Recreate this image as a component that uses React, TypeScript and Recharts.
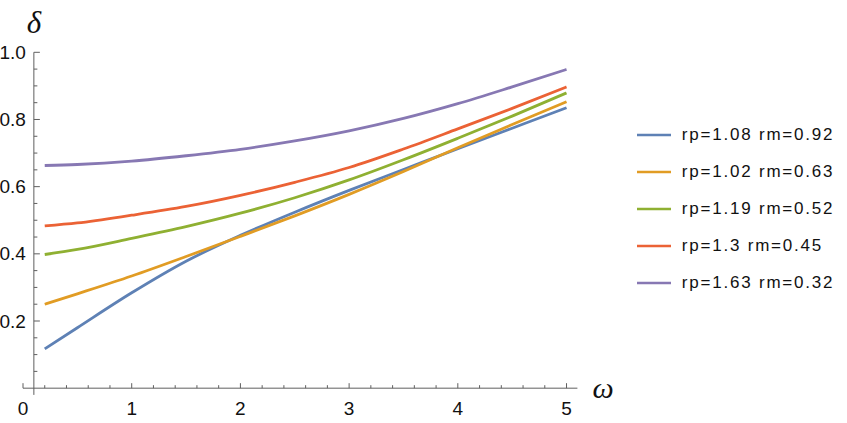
import React from "react";
import { LineChart, Line, XAxis, YAxis, ReferenceLine, Legend } from "recharts";

// ---- data ----
const OMEGA = [0.2, 0.5, 1, 1.5, 2, 2.5, 3, 3.5, 4, 4.5, 5];
const S1 = [0.117, 0.18, 0.284, 0.378, 0.455, 0.524, 0.589, 0.651, 0.713, 0.774, 0.835];
const S2 = [0.25, 0.281, 0.334, 0.392, 0.452, 0.513, 0.577, 0.645, 0.716, 0.785, 0.853];
const S3 = [0.398, 0.413, 0.446, 0.481, 0.521, 0.567, 0.62, 0.68, 0.744, 0.81, 0.879];
const S4 = [0.483, 0.492, 0.515, 0.541, 0.574, 0.613, 0.657, 0.712, 0.772, 0.833, 0.897];
const S5 = [0.663, 0.666, 0.676, 0.692, 0.711, 0.736, 0.766, 0.803, 0.847, 0.897, 0.949];
const SERIES_NAMES = [
  "rp=1.08 rm=0.92",
  "rp=1.02 rm=0.63",
  "rp=1.19 rm=0.52",
  "rp=1.3 rm=0.45",
  "rp=1.63 rm=0.32",
];
const SERIES_KEYS = ["s1", "s2", "s3", "s4", "s5"];
const SERIES_VALUES = [S1, S2, S3, S4, S5];
const COLORS = ["#5E81B5", "#E19C24", "#8FB032", "#EB6235", "#8778B3"];

const X_TICKS = [
  0, 0.2, 0.4, 0.6, 0.8, 1, 1.2, 1.4, 1.6, 1.8, 2, 2.2, 2.4, 2.6, 2.8, 3, 3.2, 3.4, 3.6, 3.8, 4,
  4.2, 4.4, 4.6, 4.8, 5,
];
const X_LABELS = [0, 1, 2, 3, 4, 5];
const Y_TICKS = [
  0.05, 0.1, 0.15, 0.2, 0.25, 0.3, 0.35, 0.4, 0.45, 0.5, 0.55, 0.6, 0.65, 0.7, 0.75, 0.8, 0.85,
  0.9, 0.95, 1.0,
];
const Y_LABELS = [0.2, 0.4, 0.6, 0.8, 1.0];

const data = OMEGA.map((w, i) => {
  const row: Record<string, number> = { w };
  SERIES_KEYS.forEach((k, j) => {
    row[k] = SERIES_VALUES[j][i];
  });
  return row;
});

// ---- layout ----
const W = 847;
const H = 423;
const PLOT_LEFT = 23;
const PLOT_RIGHT = 577.4;
const PLOT_TOP = 52.3;
const PLOT_BOTTOM = 394.9;
const X_DOMAIN: [number, number] = [0, 5.1];
const Y_DOMAIN: [number, number] = [-0.02, 1];
const Y_AXIS_AT = 0.1;
const X_AXIS_AT = 0;
const XA_H = 28;
const PX_X = (PLOT_RIGHT - PLOT_LEFT) / (X_DOMAIN[1] - X_DOMAIN[0]);
const PX_Y = (PLOT_BOTTOM - PLOT_TOP) / (Y_DOMAIN[1] - Y_DOMAIN[0]);
const Y_AXIS_OFFSET = (Y_AXIS_AT - X_DOMAIN[0]) * PX_X;
const X_AXIS_OFFSET = (X_AXIS_AT - Y_DOMAIN[0]) * PX_Y;

const AXIS_COLOR = "#5f5f5f";
const LABEL_COLOR = "#111111";
const SANS = "'Liberation Sans', Arial, Helvetica, sans-serif";
const SERIF = "'Liberation Serif', 'Times New Roman', serif";

const near = (a: number, b: number) => Math.abs(a - b) < 1e-9;

const XTick = (props: any) => {
  const { x, y, payload } = props;
  const v = payload.value;
  const major = X_LABELS.some((l) => near(l, v));
  const ay = y - X_AXIS_OFFSET;
  return (
    <g>
      <line x1={x} x2={x} y1={ay} y2={ay - (major ? 5 : 3)} stroke={AXIS_COLOR} strokeWidth={1} />
      {major && (
        <text x={x} y={ay + 26.5} textAnchor="middle" fontFamily={SANS} fontSize={19} fill={LABEL_COLOR}>
          {String(v)}
        </text>
      )}
    </g>
  );
};

const YTick = (props: any) => {
  const { x, y, payload } = props;
  const v = payload.value;
  const major = Y_LABELS.some((l) => near(l, v));
  const ax = x + Y_AXIS_OFFSET;
  return (
    <g>
      <line x1={ax} x2={ax + (major ? 6 : 3.5)} y1={y} y2={y} stroke={AXIS_COLOR} strokeWidth={1} />
      {major && (
        <text x={ax - 8} y={y} dy="0.35em" textAnchor="end" fontFamily={SANS} fontSize={19} fill={LABEL_COLOR}>
          {v.toFixed(1)}
        </text>
      )}
    </g>
  );
};

const DeltaLabel = (props: any) => {
  const vb = props.viewBox || {};
  return (
    <text x={vb.x} y={vb.y - 19} textAnchor="middle" fontFamily={SERIF} fontStyle="italic" fontSize={31} fill={LABEL_COLOR}>
      δ
    </text>
  );
};

const OmegaLabel = (props: any) => {
  const vb = props.viewBox || {};
  return (
    <text x={vb.x + vb.width + 15} y={vb.y + 10} textAnchor="start" fontFamily={SERIF} fontStyle="italic" fontSize={30} fill={LABEL_COLOR}>
      ω
    </text>
  );
};

const LegendContent = (props: any) => {
  const payload = [...(props.payload || [])].sort(
    (a: any, b: any) => SERIES_NAMES.indexOf(a.value) - SERIES_NAMES.indexOf(b.value)
  );
  return (
    <div>
      {payload.map((p: any, i: number) => (
        <div key={i} style={{ display: "flex", alignItems: "center", height: 36.9 }}>
          <svg width={34} height={6} style={{ display: "block" }}>
            <line x1={0} x2={34} y1={3} y2={3} stroke={p.color} strokeWidth={2.5} />
          </svg>
          <span
            style={{
              marginLeft: 10.7,
              fontFamily: SANS,
              fontSize: 17,
              letterSpacing: 1.8,
              color: LABEL_COLOR,
              whiteSpace: "nowrap",
              lineHeight: "18px",
            }}
          >
            {p.value}
          </span>
        </div>
      ))}
    </div>
  );
};

export default function App() {
  return (
    <div style={{ position: "absolute", left: 0, top: 0, width: W, height: H, background: "#fff" }}>
      <LineChart
        width={W}
        height={H}
        data={data}
        margin={{ top: PLOT_TOP, left: 0, right: W - PLOT_RIGHT, bottom: H - PLOT_BOTTOM - XA_H }}
      >
        <XAxis
          dataKey="w"
          type="number"
          domain={X_DOMAIN}
          ticks={X_TICKS}
          interval={0}
          height={XA_H}
          axisLine={false}
          tickLine={false}
          tickSize={0}
          tickMargin={0}
          tick={<XTick />}
          allowDataOverflow
        />
        <YAxis
          type="number"
          domain={Y_DOMAIN}
          ticks={Y_TICKS}
          interval={0}
          width={PLOT_LEFT}
          axisLine={false}
          tickLine={false}
          tickSize={0}
          tickMargin={0}
          tick={<YTick />}
          allowDataOverflow
        />
        <ReferenceLine y={X_AXIS_AT} stroke={AXIS_COLOR} strokeWidth={1} label={<OmegaLabel />} />
        <ReferenceLine x={Y_AXIS_AT} stroke={AXIS_COLOR} strokeWidth={1} label={<DeltaLabel />} />
        {SERIES_KEYS.map((k, i) => (
          <Line
            key={k}
            dataKey={k}
            name={SERIES_NAMES[i]}
            type="monotone"
            stroke={COLORS[i]}
            strokeWidth={2.8}
            dot={false}
            activeDot={false}
            isAnimationActive={false}
          />
        ))}
        <Legend
          layout="vertical"
          align="center"
          verticalAlign="middle"
          content={<LegendContent />}
          wrapperStyle={{ left: 637, top: 117, width: 210 }}
        />
      </LineChart>
    </div>
  );
}
